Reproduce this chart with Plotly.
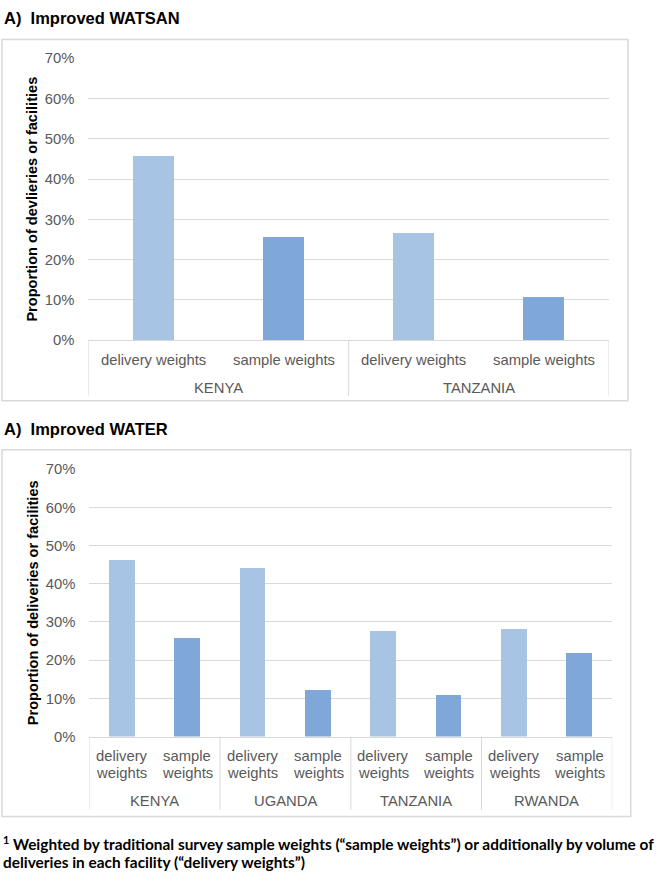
import plotly.graph_objects as go

W, H = 660, 883

# ---------------- data ----------------
watsan_title = "A)\u00a0\u00a0Improved WATSAN"
watsan_ytitle = "Proportion of devlieries or facilities"
watsan_countries = ["KENYA", "KENYA", "TANZANIA", "TANZANIA"]
watsan_weights = ["delivery weights", "sample weights", "delivery weights", "sample weights"]
watsan_values = [0.456, 0.256, 0.266, 0.107]

water_title = "A)\u00a0\u00a0Improved WATER"
water_ytitle = "Proportion of deliveries or facilities"
water_countries = ["KENYA", "KENYA", "UGANDA", "UGANDA", "TANZANIA", "TANZANIA", "RWANDA", "RWANDA"]
water_weights = ["delivery weights", "sample weights"] * 4
water_values = [0.462, 0.259, 0.442, 0.121, 0.277, 0.110, 0.282, 0.220]

y_tickvals = [0, 0.1, 0.2, 0.3, 0.4, 0.5, 0.6, 0.7]
y_ticktext = ["0%", "10%", "20%", "30%", "40%", "50%", "60%", "70%"]

footnote_line1 = "<sup>1</sup> Weighted by traditional survey sample weights (\u201csample weights\u201d) or additionally by volume of"
footnote_line2 = "deliveries in each facility (\u201cdelivery weights\u201d)"

weight_colors = {"delivery weights": "#A7C4E5", "sample weights": "#7FA8D9"}

# ---------------- styling helpers ----------------
FONT = "Liberation Sans, Arial, sans-serif"
GRID = "#D9D9D9"
TXT = "#595959"


def px_x(x):
    return x / W


def px_y(y):
    return 1 - y / H


fig = go.Figure()
shapes = []
annotations = []


def add_panel(n, title, ytitle, countries, weights, values, geo):
    xa = "x" if n == 1 else "x%d" % n
    ya = "y" if n == 1 else "y%d" % n
    xs = list(range(len(values)))
    fig.add_trace(go.Bar(
        x=xs, y=values, width=geo["barw"],
        marker=dict(color=[weight_colors[w] for w in weights], line=dict(width=0)),
        xaxis=xa, yaxis=ya, showlegend=False, hoverinfo="skip",
    ))
    lay_x = "xaxis" if n == 1 else "xaxis%d" % n
    lay_y = "yaxis" if n == 1 else "yaxis%d" % n
    fig.layout[lay_x] = dict(
        domain=[px_x(geo["left"]), px_x(geo["right"])],
        range=[-0.5, len(values) - 0.5], showticklabels=False,
        showgrid=False, zeroline=False, showline=True, linecolor=GRID, linewidth=1,
        anchor=ya, fixedrange=True,
    )
    fig.layout[lay_y] = dict(
        domain=[px_y(geo["bottom"]), px_y(geo["top"])],
        range=[0, 0.7005], tickvals=y_tickvals, ticktext=y_ticktext,
        tickfont=dict(family=FONT, size=14.8, color=TXT),
        showgrid=True, gridcolor=GRID, gridwidth=1, zeroline=False, showline=False,
        ticks="outside", ticklen=geo["standoff"], tickcolor="rgba(0,0,0,0)",
        anchor=xa, fixedrange=True,
    )
    # chart-area border
    shapes.append(dict(type="rect", xref="paper", yref="paper",
                       x0=px_x(geo["box"][0]), y0=px_y(geo["box"][1]),
                       x1=px_x(geo["box"][2]), y1=px_y(geo["box"][3]),
                       line=dict(color=GRID, width=1.5), layer="below"))
    # title
    annotations.append(dict(text="<b>%s</b>" % title, xref="paper", yref="paper",
                            x=px_x(geo["title"][0]), y=px_y(geo["title"][1]),
                            xanchor="left", yanchor="middle", showarrow=False,
                            font=dict(family=FONT, size=16.5, color="#000000")))
    # y title
    annotations.append(dict(text="<b>%s</b>" % ytitle, xref="paper", yref="paper",
                            x=px_x(geo["ytitle_x"]), y=px_y((geo["top"] + geo["bottom"]) / 2),
                            xanchor="center", yanchor="middle", textangle=-90, showarrow=False,
                            font=dict(family=FONT, size=14.6, color="#000000")))
    # category labels
    for i, w in enumerate(weights):
        if geo["wrap"]:
            for k, word in enumerate(w.split(" ")):
                annotations.append(dict(text=word, xref=xa, yref="paper", x=i,
                                        y=px_y(geo["lab_y"][k]), xanchor="center", yanchor="middle",
                                        showarrow=False, font=dict(family=FONT, size=14.8, color=TXT)))
        else:
            annotations.append(dict(text=w, xref=xa, yref="paper", x=i,
                                    y=px_y(geo["lab_y"][0]), xanchor="center", yanchor="middle",
                                    showarrow=False, font=dict(family=FONT, size=14.8, color=TXT)))
    # groups
    groups = []
    for i, c in enumerate(countries):
        if groups and groups[-1][0] == c:
            groups[-1][2] = i
        else:
            groups.append([c, i, i])
    bounds = [g[1] - 0.5 for g in groups] + [groups[-1][2] + 0.5]
    for b in bounds:
        shapes.append(dict(type="line", xref=xa, yref="paper", x0=b, x1=b,
                           y0=px_y(geo["bottom"]), y1=px_y(geo["div_end"]),
                           line=dict(color=GRID, width=1)))
    for c, s, e in groups:
        annotations.append(dict(text=c, xref=xa, yref="paper", x=(s + e) / 2,
                                y=px_y(geo["country_y"]), xanchor="center", yanchor="middle",
                                showarrow=False, font=dict(family=FONT, size=14.8, color=TXT)))


add_panel(1, watsan_title, watsan_ytitle, watsan_countries, watsan_weights, watsan_values,
          dict(left=88.3, right=609, top=51, bottom=338.3, barw=0.315, standoff=10,
               box=(2, 32, 628, 400), title=(2, 10), ytitle_x=32.5, wrap=False,
               lab_y=[358], country_y=387, div_end=395))

add_panel(2, water_title, water_ytitle, water_countries, water_weights, water_values,
          dict(left=89.3, right=612.3, top=469.5, bottom=742, barw=0.393, standoff=10,
               box=(2, 450, 630.7, 823.5), title=(2, 429), ytitle_x=32.5, wrap=True,
               lab_y=[761.7, 779.3], country_y=807.3, div_end=816.5))

FOOT_FONT = dict(family="Lato, sans-serif", size=15.4, color="#000000", weight="bold")
annotations.append(dict(text=footnote_line1, xref="paper", yref="paper", x=px_x(1), y=px_y(850),
                        xanchor="left", yanchor="middle", showarrow=False, font=FOOT_FONT))
annotations.append(dict(text=footnote_line2, xref="paper", yref="paper", x=px_x(1), y=px_y(870),
                        xanchor="left", yanchor="middle", showarrow=False, font=FOOT_FONT))

fig.update_layout(
    width=W, height=H, margin=dict(l=0, r=0, t=0, b=0),
    paper_bgcolor="white", plot_bgcolor="white",
    shapes=shapes, annotations=annotations, bargap=0,
)

fig.write_html("out.html", config={"displayModeBar": False},
               post_script="document.body.style.margin='0';document.body.style.overflow='hidden';")
